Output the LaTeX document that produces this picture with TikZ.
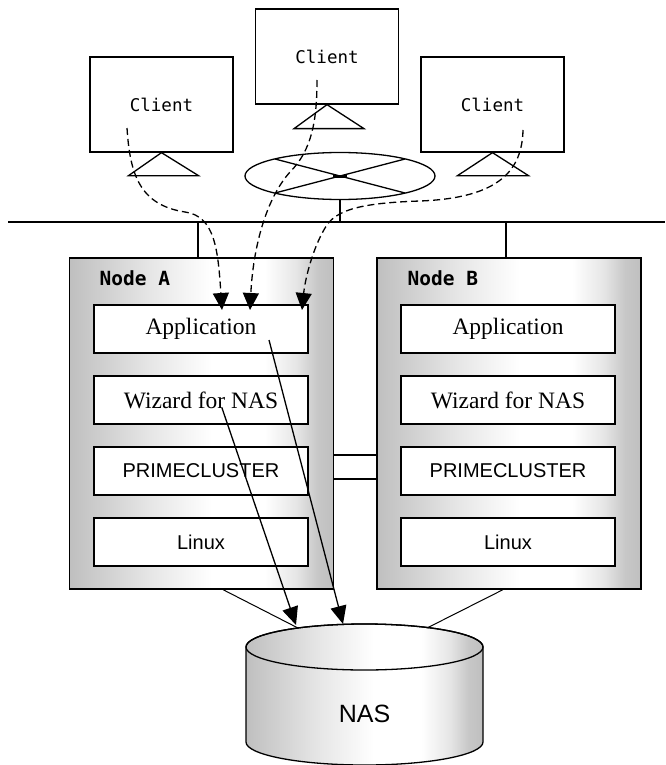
\documentclass[tikz,border=0pt]{standalone}
\usepackage{fontspec}
\usetikzlibrary{arrows.meta,shapes.geometric}
\newfontfamily\dmono{DejaVu Sans Mono}
\newfontfamily\lserif{Liberation Serif}
\newfontfamily\lsans{Liberation Sans}
\pgfdeclarehorizontalshading{boxshade}{100bp}{color(0bp)=(black!25); color(25bp)=(black!25); color(30bp)=(black!20); color(40bp)=(black!10); color(52bp)=(white); color(62bp)=(white); color(68bp)=(black!10); color(72bp)=(black!22); color(75bp)=(black!25); color(100bp)=(black!25)}
\begin{document}
\begin{tikzpicture}[x=1pt,y=-1pt,
  line width=1.3pt,
  client/.style={draw, minimum width=143pt, minimum height=95pt, inner sep=0pt, font=\dmono\fontsize{17.5}{20}\selectfont},
  server/.style={draw, shading=boxshade, minimum width=264pt, minimum height=331pt, inner sep=0pt},
  layer/.style={draw, fill=white, minimum width=214pt, minimum height=48pt, inner sep=0pt},
  serif/.style={font=\lserif\fontsize{23.5}{28}\selectfont},
  sans/.style={font=\lsans\fontsize{20}{24}\selectfont},
  nodelabel/.style={font=\dmono\bfseries\fontsize{19.5}{22}\selectfont, anchor=base west, inner sep=0pt},
  dasharrow/.style={dash pattern=on 7pt off 4pt, -{Triangle[width=16pt,length=17pt]}},
  solidarrow/.style={-{Triangle[width=16pt,length=18pt]}},
  thinline/.style={line width=1pt}
]
\useasboundingbox (0,0) rectangle (666,765);

% clients
\node[client] (c1) at (161.5,104.5) {Client};
\node[client] (c2) at (327,56.5) {Client};
\node[client] (c3) at (492.5,104.5) {Client};
\draw (c1.south) -- ++(-33,23) -- ++(70,0) -- cycle;
\draw (c2.south) -- ++(-33,24) -- ++(70,0) -- cycle;
\draw (c3.south) -- ++(-35,23) -- ++(71,0) -- cycle;

% network hub
\node[draw, ellipse, minimum width=190pt, minimum height=47pt, inner sep=0pt] (hub) at (340,176) {};
\draw (275,159) -- (405,193);
\draw (405,159) -- (275,193);
\draw[line width=3pt] (333,176) -- (347,176);

% bus
\coordinate (busL) at (8,222);
\coordinate (busR) at (665,222);
\draw[line width=1.6pt] (busL) -- (busR);
\draw (hub.south) -- (hub.south |- busL);

% servers
\node[server] (nA) at (201.5,423.5) {};
\node[server] (nB) at (509,423.5) {};
\coordinate (busA) at (198,222);
\coordinate (busB) at (506,222);
\draw (busA) -- (busA |- nA.north);
\draw (busB) -- (busB |- nB.north);
\node[nodelabel] (lA) at (99,285) {Node A};
\node[nodelabel] (lB) at (407,285) {Node B};

\node[layer, serif] (appA) at (201,329) {Application};
\node[layer, serif] (wizA) at (201,400) {Wizard for NAS};
\node[layer, sans]  (pcA)  at (201,471) {PRIMECLUSTER};
\node[layer, sans]  (linA) at (201,542) {Linux};
\node[layer, serif] (appB) at (508,329) {Application};
\node[layer, serif] (wizB) at (508,400) {Wizard for NAS};
\node[layer, sans]  (pcB)  at (508,471) {PRIMECLUSTER};
\node[layer, sans]  (linB) at (508,542) {Linux};

% heartbeat lines
\draw (nA.east |- 0,455) -- (nB.west |- 0,455);
\draw (nA.east |- 0,479) -- (nB.west |- 0,479);

% NAS cylinder
\path[draw, shading=boxshade] (246,742) arc[start angle=180, end angle=0, x radius=118.5, y radius=23]
  -- (483,647) arc[start angle=0, end angle=-180, x radius=118.5, y radius=23] -- cycle;
\draw (364.5,647) ellipse[x radius=118.5, y radius=23];
\node[font=\lsans\fontsize{25}{30}\selectfont] (nas) at (364.5,714) {NAS};

% server to NAS lines
\coordinate (nasA) at (298,628);
\coordinate (nasB) at (427,628);
\draw[thinline] (nA.south -| 223,0) -- (nasA);
\draw[thinline] (nB.south -| 503,0) -- (nasB);

% solid arrows
\coordinate (wzs) at (222,408);
\coordinate (aps) at (269,340);
\coordinate (t1) at (296,625);
\coordinate (t2) at (343,624);
\draw[solidarrow] (wzs) -- (t1);
\draw[solidarrow] (aps) -- (t2);

% dashed client arrows
\coordinate (d1) at (127,128);
\coordinate (d2) at (317,80);
\coordinate (d3) at (523,130);
\draw[dasharrow] (d1) .. controls (130,175) and (140,205) .. (185,212)
   .. controls (215,216) and (218,250) .. (222,310);
\draw[dasharrow] (d2) .. controls (317,120) and (312,150) .. (290,172)
   .. controls (265,200) and (253,250) .. (250,310);
\draw[dasharrow] (d3) .. controls (522,170) and (500,198) .. (420,201)
   .. controls (360,203) and (335,210) .. (325,228)
   .. controls (312,250) and (305,280) .. (302,310);
\end{tikzpicture}
\end{document}
